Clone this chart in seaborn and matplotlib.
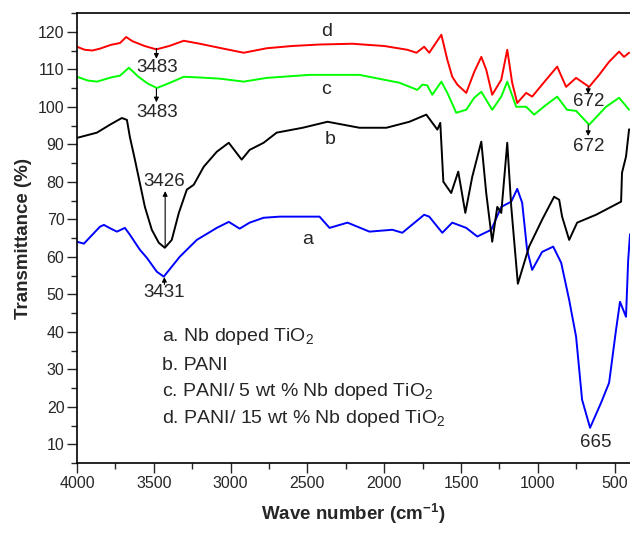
import pandas as pd
import seaborn as sns
import matplotlib.pyplot as plt
from matplotlib.ticker import MultipleLocator

# FTIR spectra (wavenumber, transmittance)
a_x = [4000, 3955, 3851, 3825, 3780, 3740, 3688, 3656, 3591, 3545, 3480, 3435, 3331, 3220, 3090, 3012, 2941,
       2876, 2785, 2681, 2421, 2356, 2239, 2096, 1947, 1882, 1740, 1707, 1622, 1557, 1466, 1394, 1303, 1238,
       1173, 1134, 1102, 1070, 1037, 972, 900, 848, 796, 751, 712, 660, 588, 536, 491, 465, 426, 412, 400]
a_y = [64, 63.5, 68, 68.5, 67.5, 66.7, 67.7, 65.9, 61.9, 59.7, 56, 54.7, 60, 64.5, 67.7, 69.3, 67.5,
       69.1, 70.4, 70.7, 70.7, 67.7, 69.1, 66.7, 67.2, 66.4, 71.2, 70.7, 66.4, 69.1, 67.7, 65.4, 67.2, 73.3,
       74.7, 78.1, 74.4, 61.9, 56.5, 61.3, 62.7, 58.4, 48.5, 38.7, 21.9, 14.4, 21.1, 26.4, 40.5, 48, 44, 59, 66]

b_x = [4000, 3870, 3786, 3708, 3675, 3656, 3623, 3591, 3558, 3513, 3467, 3428, 3383, 3337, 3285, 3240, 3175,
       3090, 3012, 2928, 2876, 2785, 2700, 2531, 2369, 2161, 1986, 1836, 1726, 1654, 1635, 1615, 1564, 1518,
       1472, 1427, 1368, 1336, 1297, 1264, 1238, 1199, 1173, 1130, 1057, 972, 894, 861, 842, 796, 744, 621,
       523, 458, 452, 426, 406]
b_y = [91.7, 93.1, 95.2, 97, 96.5, 92, 85.9, 79.7, 73.3, 67.2, 63.7, 62.4, 64.5, 71.7, 77.9, 79.2, 84,
       88, 90.4, 85.9, 88.5, 90.4, 93.1, 94.4, 96, 94.4, 94.4, 96, 97.9, 93.9, 95.7, 80, 77, 82.7,
       71.7, 81.3, 90.7, 77, 64, 73.3, 71.7, 90.4, 73.3, 52.8, 62.7, 69.9, 76, 75.2, 70.7, 64.5, 69.1, 71.2,
       73.3, 74.7, 82.4, 86.7, 94]

c_x = [4000, 3930, 3870, 3780, 3720, 3662, 3600, 3540, 3480, 3400, 3305, 3200, 3071, 2915, 2765, 2487, 2161,
       1901, 1784, 1752, 1720, 1687, 1628, 1589, 1531, 1466, 1414, 1368, 1297, 1238, 1199, 1141, 1076, 1024,
       946, 874, 810, 751, 666, 556, 471, 406]
c_y = [108, 107, 106.7, 107.8, 108.3, 110.4, 108, 106.2, 105, 106.3, 108, 107.8, 107.5, 106.7, 107.7, 108.5, 108.5,
       106.4, 104.5, 105.9, 105.7, 103.2, 106.7, 103.7, 98.4, 99.2, 102.4, 104, 99.2, 102.7, 106.7, 100, 100, 97.9,
       100.5, 102.7, 99.2, 98.9, 95.2, 100, 102.4, 99.2]

d_x = [4000, 3950, 3900, 3850, 3780, 3720, 3680, 3640, 3560, 3483, 3400, 3305, 3200, 3071, 2915, 2765, 2600,
       2420, 2207, 2000, 1850, 1790, 1740, 1707, 1628, 1589, 1557, 1524, 1466, 1414, 1368, 1336, 1297, 1238,
       1199, 1167, 1134, 1076, 1037, 946, 874, 816, 751, 666, 601, 536, 471, 439, 406]
d_y = [116, 115.2, 115, 115.5, 116.5, 117, 118.6, 117.5, 116.2, 115.3, 116.2, 117.6, 116.8, 115.7, 114.4, 115.6, 116.2,
       116.6, 116.8, 116.2, 115.2, 114.4, 116, 114.4, 119.2, 112.5, 108, 105.9, 103.7, 109.3, 113.3, 109.9, 103.2, 107.2,
       115.2, 106.4, 101, 103.7, 102.7, 107.2, 110.7, 105.3, 107.7, 105.3, 108.5, 112, 114.7, 113.3, 114.4]

legend_lines = ['a. Nb doped TiO$_\\mathregular{2}$', 'b. PANI',
                'c. PANI/ 5 wt % Nb doped TiO$_\\mathregular{2}$',
                'd. PANI/ 15 wt % Nb doped TiO$_\\mathregular{2}$']

frames = []
for name, xs, ys in [('a', a_x, a_y), ('b', b_x, b_y), ('c', c_x, c_y), ('d', d_x, d_y)]:
    frames.append(pd.DataFrame({'wn': xs, 'T': ys, 'sample': name}))
df = pd.concat(frames, ignore_index=True)

sns.set_style('ticks')
plt.rcParams['font.family'] = ['Liberation Sans', 'DejaVu Sans']
plt.rcParams['mathtext.fontset'] = 'custom'
plt.rcParams['mathtext.rm'] = 'Liberation Sans'
plt.rcParams['mathtext.it'] = 'Liberation Sans:italic'
plt.rcParams['mathtext.bf'] = 'Liberation Sans:bold'

fig = plt.figure(figsize=(6.3, 5.33), dpi=100)
ax = fig.add_axes([0.1222, 0.1313, 0.8778, 0.8443])

pal = {'a': '#0000ff', 'b': '#000000', 'c': '#00ff00', 'd': '#ff0000'}
sns.lineplot(data=df, x='wn', y='T', hue='sample', palette=pal, estimator=None,
             legend=False, linewidth=1.4, ax=ax)

ax.set_xlim(4000, 400)
ax.set_ylim(5, 125)
ax.xaxis.set_major_locator(MultipleLocator(500))
ax.xaxis.set_minor_locator(MultipleLocator(250))
ax.set_yticks(range(10, 121, 10))
ax.yaxis.set_minor_locator(MultipleLocator(5))
ax.tick_params(which='major', direction='out', length=7, width=1, labelsize=11.5, pad=2)
ax.tick_params(which='minor', direction='out', length=4, width=1)
for s in ['left', 'bottom', 'top']:
    ax.spines[s].set_linewidth(1.2)
    ax.spines[s].set_color('black')
ax.spines['right'].set_visible(False)

ax.set_xlabel('Wave number (cm$^{\\mathregular{-1}}$)', fontsize=13.5, fontweight='bold', labelpad=8)
ax.set_ylabel('Transmittance (%)', fontsize=13.5, fontweight='bold', labelpad=4)

# curve labels
ax.text(2376, 120, 'd', fontsize=14, ha='center', va='center')
ax.text(2376, 104.5, 'c', fontsize=14, ha='center', va='center')
ax.text(2350, 91.2, 'b', fontsize=14, ha='center', va='center')
ax.text(2500, 64.5, 'a', fontsize=14, ha='center', va='center')

# peak annotations
arw = dict(arrowstyle='-|>', color='black', lw=0.8, mutation_scale=7, shrinkA=0, shrinkB=0)
ax.annotate('', xy=(3483, 112.8), xytext=(3483, 115.6), arrowprops=arw)
ax.text(3480, 110.6, '3483', fontsize=13.5, ha='center', va='center')
ax.annotate('', xy=(3483, 101.2), xytext=(3483, 104.8), arrowprops=arw)
ax.text(3480, 98.4, '3483', fontsize=13.5, ha='center', va='center')
ax.annotate('', xy=(3426, 77.5), xytext=(3426, 62.6), arrowprops=arw)
ax.text(3434, 80, '3426', fontsize=13.5, ha='center', va='center')
ax.annotate('', xy=(3431, 54.6), xytext=(3431, 52.6), arrowprops=arw)
ax.text(3431, 50.4, '3431', fontsize=13.5, ha='center', va='center')
ax.annotate('', xy=(672, 103.4), xytext=(672, 105.3), arrowprops=arw)
ax.text(666, 101.3, '672', fontsize=13.5, ha='center', va='center')
ax.annotate('', xy=(672, 92.2), xytext=(672, 95.2), arrowprops=arw)
ax.text(666, 89.3, '672', fontsize=13.5, ha='center', va='center')
ax.text(623, 10.4, '665', fontsize=13.5, ha='center', va='center')

# sample list
for txt, yy in zip(legend_lines, [38.7, 31, 24, 16.8]):
    ax.text(3448, yy, txt, fontsize=14, ha='left', va='center')

fig.savefig('out.png', dpi=100)
